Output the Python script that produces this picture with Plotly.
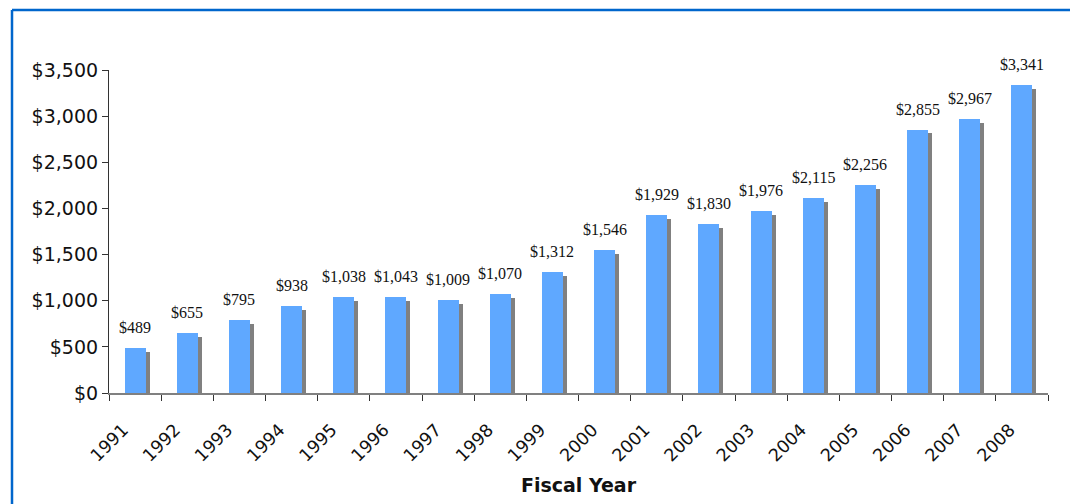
import plotly.graph_objects as go

years = ["1991", "1992", "1993", "1994", "1995", "1996", "1997", "1998", "1999",
         "2000", "2001", "2002", "2003", "2004", "2005", "2006", "2007", "2008"]
values = [489, 655, 795, 938, 1038, 1043, 1009, 1070, 1312,
          1546, 1929, 1830, 1976, 2115, 2256, 2855, 2967, 3341]
labels = ["$" + f"{v:,}" for v in values]
y_tick_vals = [0, 500, 1000, 1500, 2000, 2500, 3000, 3500]
y_tick_text = ["$" + f"{v:,}" for v in y_tick_vals]

BLUE = "#5FA8FF"
GREY = "#808080"
BAR_W = 0.40
SHADOW_DX = 0.077
SHADOW_DROP = 43

W, H = 1070, 504
ML, MR, MT, MB = 109, 22, 70, 111
PW, PH = W - ML - MR, H - MT - MB

fig = go.Figure()
fig.add_trace(go.Bar(
    x=years, y=values, base=-SHADOW_DROP,
    width=BAR_W, offset=-BAR_W / 2 + SHADOW_DX,
    marker=dict(color=GREY, line=dict(width=0)),
    hoverinfo="skip", showlegend=False,
))
fig.add_trace(go.Bar(
    x=years, y=values,
    width=BAR_W, offset=-BAR_W / 2,
    marker=dict(color=BLUE, line=dict(width=0)),
    showlegend=False,
))

for i, (v, lab) in enumerate(zip(values, labels)):
    fig.add_annotation(
        x=i, y=v, text=lab, showarrow=False, yanchor="bottom", yshift=10,
        font=dict(family="Liberation Serif, Times New Roman, serif", size=16, color="#111"),
    )

# blue frame
def px_x(p):
    return (p - ML) / PW

def px_y(p):
    return (MT + PH - p) / PH

fig.add_shape(type="line", xref="paper", yref="paper",
              x0=px_x(12), x1=px_x(1075), y0=px_y(10), y1=px_y(10),
              line=dict(color="#0066CC", width=2.5))
fig.add_shape(type="line", xref="paper", yref="paper",
              x0=px_x(12), x1=px_x(12), y0=px_y(10), y1=px_y(510),
              line=dict(color="#0066CC", width=2.5))

fig.update_layout(
    width=W, height=H,
    margin=dict(l=ML, r=MR, t=MT, b=MB),
    paper_bgcolor="white", plot_bgcolor="white",
    bargap=0.0,
    xaxis=dict(
        type="category", range=[-0.5, len(years) - 0.5],
        tickangle=-45, tickson="boundaries",
        ticks="outside", ticklen=6, tickcolor="#333",
        ticklabelstandoff=18, ticklabelshift=-12,
        showline=True, linecolor="#808080", linewidth=1.5,
        showgrid=False, zeroline=False,
        tickfont=dict(family="DejaVu Sans, Verdana, sans-serif", size=17.5, color="#111"),
        title=dict(text="<b>Fiscal Year</b>", standoff=14,
                   font=dict(family="DejaVu Sans, Arial, sans-serif", size=19, color="#111")),
        automargin=False,
    ),
    yaxis=dict(
        range=[0, 3500], tickvals=y_tick_vals, ticktext=y_tick_text,
        ticks="outside", ticklen=6, tickcolor="#333",
        showline=True, linecolor="#333", linewidth=1.2,
        showgrid=False, zeroline=False,
        tickfont=dict(family="DejaVu Sans, Verdana, sans-serif", size=19, color="#111"),
        automargin=False,
    ),
)

fig.write_html("out.html")
